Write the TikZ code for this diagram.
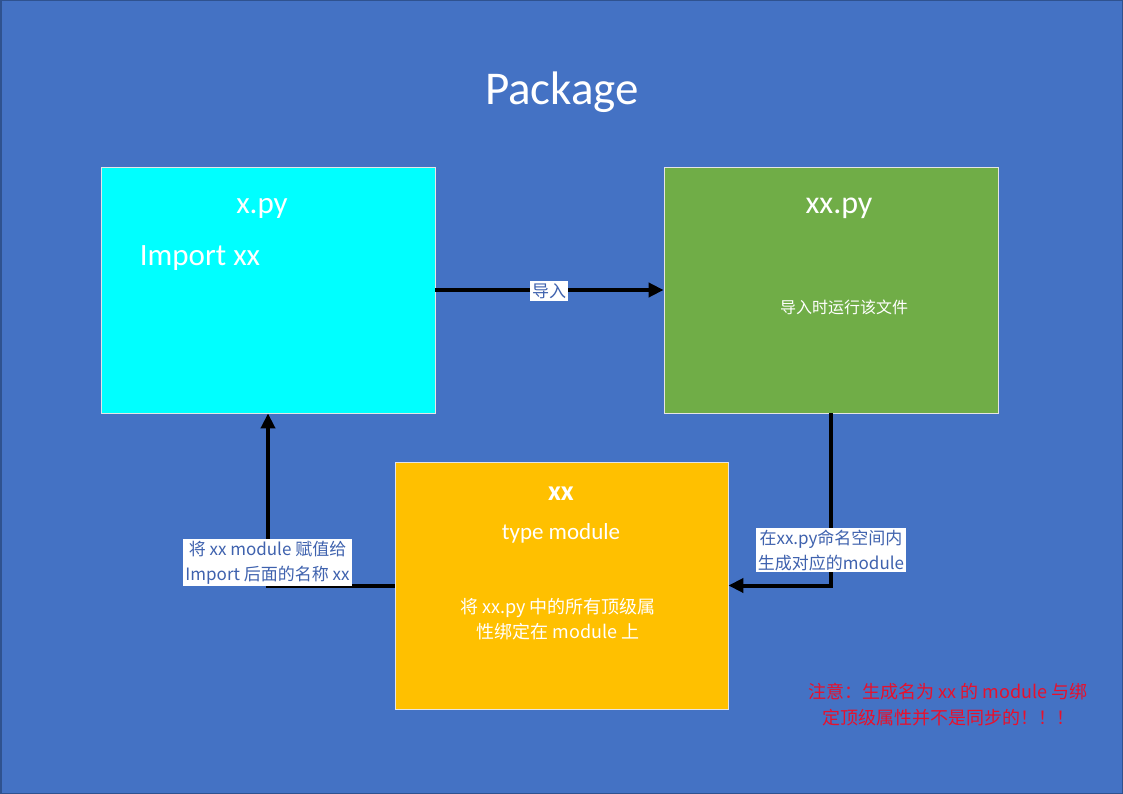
\documentclass[tikz,border=0pt]{standalone}
\usepackage{fontspec}
\setmainfont{Carlito}
\newfontfamily\cjk{Noto Sans CJK SC}
\usetikzlibrary{arrows.meta}
\definecolor{bgblue}{HTML}{4472C4}
\definecolor{bgdark}{HTML}{2F528F}
\definecolor{boxcyan}{HTML}{00FFFF}
\definecolor{boxgreen}{HTML}{70AD47}
\definecolor{boxyellow}{HTML}{FFC000}
\definecolor{labblue}{HTML}{3F62AE}
\definecolor{notered}{HTML}{E8102C}
\tikzset{
  box/.style={rectangle, draw=white!80!gray, line width=0.8pt, minimum width=334pt, minimum height=246pt, inner sep=0pt},
  wtext/.style={text=white, inner sep=0pt, align=center},
  lab/.style={fill=white, text=labblue, inner sep=2pt, align=center, font=\cjk\fontsize{17}{25}\selectfont},
  arr/.style={line width=4pt, -{Triangle[length=15pt,width=14pt]}},
}
\begin{document}
\begin{tikzpicture}[x=1pt,y=-1pt]
\fill[bgblue] (0,0) rectangle (1123,794);
\draw[bgdark, line width=1.5pt] (0.75,0.75) rectangle (1122.25,793.25);
\useasboundingbox (0,0) rectangle (1123,794);

\node[wtext, font=\fontsize{47}{50}\selectfont] (title) at (562,92) {Package};

\node[box, fill=boxcyan] (xpy) at (268,290) {};
\node[box, fill=boxgreen] (xxpy) at (831,290) {};
\node[box, fill=boxyellow, minimum width=333pt, minimum height=247pt] (mod) at (561.5,585.5) {};

\node[wtext, font=\fontsize{31}{36}\selectfont] (xpyt) at (262,208) {x.py};
\node[wtext, font=\fontsize{31}{36}\selectfont] (imp) at (200,258) {Import xx};

\node[wtext, font=\fontsize{32}{36}\selectfont] (xxpyt) at (839,208) {xx.py};
\node[wtext, font=\cjk\fontsize{16}{20}\selectfont] (run) at (844,307) {导入时运行该文件};

\node[wtext, font=\bfseries\fontsize{28}{30}\selectfont] (xxt) at (561,494) {xx};
\node[wtext, font=\fontsize{23}{28}\selectfont] (tm) at (561,533) {type module};
\node[wtext, font=\cjk\fontsize{18}{25}\selectfont] (bind) at (558,619) {将 xx.py 中的所有顶级属\\性绑定在 module 上};

\draw[arr] (xpy.east) -- (xxpy.west);
\draw[arr] (xxpy.south) |- (mod.east);
\draw[arr] (mod.west) -| (xpy.south);

\node[lab] (imlab) at (549,291) {导入};
\node[lab] (gen) at (831,550) {在xx.py命名空间内\\生成对应的module};
\node[lab] (asg) at (267.5,562.5) {将 xx module 赋值给\\Import 后面的名称 xx};

\node[text=notered, align=center, inner sep=0pt, font=\cjk\fontsize{18}{26}\selectfont] (note) at (948,705) {注意：生成名为 xx 的 module 与绑\\定顶级属性并不是同步的！！！};
\end{tikzpicture}
\end{document}
